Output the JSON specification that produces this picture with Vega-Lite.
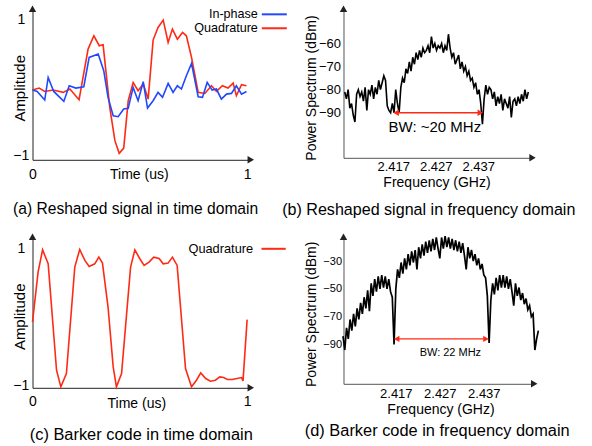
{
 "$schema": "https://vega.github.io/schema/vega-lite/v6.json",
 "padding": {"left": 12.5, "top": 4.8, "right": 0, "bottom": 0},
 "autosize": {"type": "pad"},
 "background": "white",
 "config": {
  "font": "Liberation Sans",
  "view": {"stroke": null},
  "axis": {"grid": false, "ticks": false, "domainColor": "#222", "domainWidth": 1, "labelColor": "#000", "titleColor": "#000", "titleFontWeight": "normal", "labelFlush": false, "labelOverlap": false, "labelBound": false, "titleBaseline": "middle", "titleAlign": "center"},
  "title": {"color": "#000", "fontWeight": "normal"},
  "text": {"font": "Liberation Sans"}
 },
 "columns": 2,
 "spacing": {"row": 77, "column": 92},
 "bounds": "flush",
 "resolve": {"scale": {"x": "independent", "y": "independent", "color": "independent"}},
 "concat": [
  {
   "width": 218.3, "height": 151,
   "title": {"text": "(a) Reshaped signal in time domain", "orient": "bottom", "anchor": "start", "frame": "group", "dx": -19.4, "offset": 20, "fontSize": 15.6},
   "data": {"values": [
    {"ta":0,"aa":-0.039,"series":"Quadrature"},{"ta":0.031,"aa":-0.010,"series":"Quadrature"},{"ta":0.057,"aa":-0.059,"series":"Quadrature"},{"ta":0.096,"aa":-0.039,"series":"Quadrature"},{"ta":0.143,"aa":-0.073,"series":"Quadrature"},{"ta":0.174,"aa":-0.024,"series":"Quadrature"},{"ta":0.217,"aa":-0.180,"series":"Quadrature"},{"ta":0.259,"aa":0.561,"series":"Quadrature"},{"ta":0.286,"aa":0.756,"series":"Quadrature"},{"ta":0.311,"aa":0.610,"series":"Quadrature"},{"ta":0.329,"aa":0.624,"series":"Quadrature"},{"ta":0.360,"aa":-0.293,"series":"Quadrature"},{"ta":0.384,"aa":-0.780,"series":"Quadrature"},{"ta":0.404,"aa":-0.966,"series":"Quadrature"},{"ta":0.425,"aa":-0.888,"series":"Quadrature"},{"ta":0.446,"aa":-0.195,"series":"Quadrature"},{"ta":0.469,"aa":0.073,"series":"Quadrature"},{"ta":0.492,"aa":-0.049,"series":"Quadrature"},{"ta":0.516,"aa":0.049,"series":"Quadrature"},{"ta":0.539,"aa":-0.171,"series":"Quadrature"},{"ta":0.562,"aa":0.693,"series":"Quadrature"},{"ta":0.585,"aa":0.878,"series":"Quadrature"},{"ta":0.609,"aa":0.985,"series":"Quadrature"},{"ta":0.632,"aa":0.659,"series":"Quadrature"},{"ta":0.652,"aa":0.854,"series":"Quadrature"},{"ta":0.675,"aa":0.707,"series":"Quadrature"},{"ta":0.699,"aa":0.805,"series":"Quadrature"},{"ta":0.717,"aa":0.756,"series":"Quadrature"},{"ta":0.741,"aa":0.439,"series":"Quadrature"},{"ta":0.772,"aa":-0.073,"series":"Quadrature"},{"ta":0.803,"aa":-0.088,"series":"Quadrature"},{"ta":0.834,"aa":0.024,"series":"Quadrature"},{"ta":0.857,"aa":-0.059,"series":"Quadrature"},{"ta":0.885,"aa":0.024,"series":"Quadrature"},{"ta":0.911,"aa":-0.010,"series":"Quadrature"},{"ta":0.935,"aa":0.063,"series":"Quadrature"},{"ta":0.950,"aa":-0.122,"series":"Quadrature"},{"ta":0.974,"aa":0.039,"series":"Quadrature"},{"ta":0.997,"aa":0.024,"series":"Quadrature"},
    {"ta":0,"aa":-0.039,"series":"In-phase"},{"ta":0.022,"aa":-0.059,"series":"In-phase"},{"ta":0.057,"aa":-0.185,"series":"In-phase"},{"ta":0.073,"aa":0.146,"series":"In-phase"},{"ta":0.099,"aa":-0.059,"series":"In-phase"},{"ta":0.146,"aa":-0.205,"series":"In-phase"},{"ta":0.171,"aa":0.024,"series":"In-phase"},{"ta":0.202,"aa":-0.010,"series":"In-phase"},{"ta":0.239,"aa":0.010,"series":"In-phase"},{"ta":0.264,"aa":0.439,"series":"In-phase"},{"ta":0.306,"aa":0.488,"series":"In-phase"},{"ta":0.332,"aa":0.244,"series":"In-phase"},{"ta":0.352,"aa":-0.146,"series":"In-phase"},{"ta":0.376,"aa":-0.415,"series":"In-phase"},{"ta":0.399,"aa":-0.429,"series":"In-phase"},{"ta":0.425,"aa":-0.317,"series":"In-phase"},{"ta":0.446,"aa":-0.307,"series":"In-phase"},{"ta":0.469,"aa":0.000,"series":"In-phase"},{"ta":0.492,"aa":-0.195,"series":"In-phase"},{"ta":0.516,"aa":0.083,"series":"In-phase"},{"ta":0.536,"aa":-0.302,"series":"In-phase"},{"ta":0.562,"aa":-0.195,"series":"In-phase"},{"ta":0.585,"aa":-0.073,"series":"In-phase"},{"ta":0.606,"aa":-0.146,"series":"In-phase"},{"ta":0.632,"aa":0.059,"series":"In-phase"},{"ta":0.655,"aa":-0.073,"series":"In-phase"},{"ta":0.675,"aa":0.024,"series":"In-phase"},{"ta":0.694,"aa":-0.024,"series":"In-phase"},{"ta":0.717,"aa":0.171,"series":"In-phase"},{"ta":0.741,"aa":0.351,"series":"In-phase"},{"ta":0.772,"aa":-0.137,"series":"In-phase"},{"ta":0.792,"aa":-0.146,"series":"In-phase"},{"ta":0.814,"aa":0.073,"series":"In-phase"},{"ta":0.837,"aa":-0.039,"series":"In-phase"},{"ta":0.857,"aa":-0.024,"series":"In-phase"},{"ta":0.880,"aa":-0.171,"series":"In-phase"},{"ta":0.904,"aa":-0.098,"series":"In-phase"},{"ta":0.927,"aa":-0.088,"series":"In-phase"},{"ta":0.950,"aa":0.024,"series":"In-phase"},{"ta":0.974,"aa":-0.098,"series":"In-phase"},{"ta":0.997,"aa":-0.059,"series":"In-phase"}
   ]},
   "layer": [
    {"mark": {"type": "line", "strokeWidth": 1.6, "clip": false},
     "encoding": {
      "x": {"field": "ta", "type": "quantitative", "scale": {"domain": [0, 1.0172], "nice": false, "zero": false},
            "axis": {"values": [0, 1], "format": "d", "labelFontSize": 14, "labelPadding": 8.2, "title": "Time (us)", "titleFontSize": 14, "titleX": 106.3, "titleY": 15}},
      "y": {"field": "aa", "type": "quantitative", "scale": {"domain": [-1.06, 1.151], "nice": false, "zero": false},
            "axis": {"values": [-1, 1], "format": "d", "labelFontSize": 14, "labelAlign": "center", "labelPadding": 11.7, "title": "Amplitude", "titleFontSize": 15, "titleX": -12.7, "titleY": 79}},
      "color": {"field": "series", "type": "nominal", "scale": {"domain": ["In-phase", "Quadrature"], "range": ["#1f48ff", "#ff2a14"]}, "legend": null}
     }},
    {"data": {"values": [{"name": "In-phase"}]}, "mark": {"type": "text", "text": "In-phase", "fontSize": 12.6, "align": "right", "baseline": "middle", "color": "#000"},
     "encoding": {"x": {"datum": 1.05}, "y": {"datum": 1.07}}},
    {"data": {"values": [{"name": "Quadrature"}]}, "mark": {"type": "text", "text": "Quadrature", "fontSize": 12.6, "align": "right", "baseline": "middle", "color": "#000"},
     "encoding": {"x": {"datum": 1.05}, "y": {"datum": 0.866}}},
    {"data": {"values": [{}]}, "mark": {"type": "rule", "color": "#1f48ff", "strokeWidth": 2},
     "encoding": {"x": {"datum": 1.0685}, "x2": {"datum": 1.185}, "y": {"datum": 1.07}}},
    {"data": {"values": [{}]}, "mark": {"type": "rule", "color": "#ff2a14", "strokeWidth": 2},
     "encoding": {"x": {"datum": 1.0685}, "x2": {"datum": 1.185}, "y": {"datum": 0.866}}},
    {"data": {"values": [{}]}, "mark": {"type": "point", "shape": "triangle-up", "filled": true, "size": 55, "color": "#222", "opacity": 1, "clip": false},
     "encoding": {"x": {"datum": 0}, "y": {"datum": 1.151}}},
    {"data": {"values": [{}]}, "mark": {"type": "point", "shape": "triangle-right", "filled": true, "size": 55, "color": "#222", "opacity": 1, "clip": false},
     "encoding": {"x": {"datum": 1.0172}, "y": {"datum": -1.06}}}
   ]
  },
  {
   "width": 189, "height": 149,
   "title": {"text": "(b) Reshaped signal in frequency domain", "orient": "bottom", "anchor": "start", "frame": "group", "dx": -61.3, "offset": 12.6, "fontSize": 16.1},
   "data": {"values": [
    {"fb":2405.6,"pb":-81},{"fb":2406.0,"pb":-84},{"fb":2406.4,"pb":-80},{"fb":2406.8,"pb":-88},{"fb":2407.2,"pb":-86},{"fb":2407.6,"pb":-91},{"fb":2408.0,"pb":-94},{"fb":2408.4,"pb":-82},{"fb":2408.8,"pb":-80},{"fb":2409.2,"pb":-83},{"fb":2409.6,"pb":-81},{"fb":2410.0,"pb":-85},{"fb":2410.4,"pb":-79},{"fb":2410.8,"pb":-89},{"fb":2411.2,"pb":-80},{"fb":2411.6,"pb":-82},{"fb":2412.0,"pb":-78},{"fb":2412.4,"pb":-84},{"fb":2412.8,"pb":-79},{"fb":2413.2,"pb":-82},{"fb":2413.6,"pb":-76},{"fb":2414.0,"pb":-80},{"fb":2414.4,"pb":-77},{"fb":2414.8,"pb":-74},{"fb":2415.2,"pb":-76},{"fb":2415.6,"pb":-87},{"fb":2416.0,"pb":-89},{"fb":2416.4,"pb":-90},{"fb":2416.8,"pb":-86},{"fb":2417.2,"pb":-90},{"fb":2417.6,"pb":-80},{"fb":2418.0,"pb":-86},{"fb":2418.4,"pb":-90},{"fb":2418.8,"pb":-79},{"fb":2419.2,"pb":-75},{"fb":2419.6,"pb":-77},{"fb":2420.0,"pb":-71},{"fb":2420.4,"pb":-73},{"fb":2420.8,"pb":-68},{"fb":2421.2,"pb":-72},{"fb":2421.6,"pb":-66},{"fb":2422.0,"pb":-69},{"fb":2422.4,"pb":-64},{"fb":2422.8,"pb":-67},{"fb":2423.2,"pb":-63},{"fb":2423.6,"pb":-66},{"fb":2424.0,"pb":-62},{"fb":2424.4,"pb":-64},{"fb":2424.8,"pb":-63},{"fb":2425.2,"pb":-61},{"fb":2425.6,"pb":-64},{"fb":2426.0,"pb":-57},{"fb":2426.4,"pb":-62},{"fb":2426.8,"pb":-60},{"fb":2427.2,"pb":-63},{"fb":2427.6,"pb":-61},{"fb":2428.0,"pb":-62},{"fb":2428.4,"pb":-60},{"fb":2428.8,"pb":-64},{"fb":2429.2,"pb":-61},{"fb":2429.6,"pb":-63},{"fb":2430.0,"pb":-56},{"fb":2430.4,"pb":-62},{"fb":2430.8,"pb":-66},{"fb":2431.2,"pb":-64},{"fb":2431.6,"pb":-69},{"fb":2432.0,"pb":-67},{"fb":2432.4,"pb":-65},{"fb":2432.8,"pb":-71},{"fb":2433.2,"pb":-68},{"fb":2433.6,"pb":-72},{"fb":2434.0,"pb":-70},{"fb":2434.4,"pb":-74},{"fb":2434.8,"pb":-72},{"fb":2435.2,"pb":-76},{"fb":2435.6,"pb":-75},{"fb":2436.0,"pb":-79},{"fb":2436.4,"pb":-77},{"fb":2436.8,"pb":-82},{"fb":2437.2,"pb":-80},{"fb":2437.6,"pb":-86},{"fb":2438.0,"pb":-95},{"fb":2438.4,"pb":-84},{"fb":2438.8,"pb":-78},{"fb":2439.2,"pb":-82},{"fb":2439.6,"pb":-79},{"fb":2440.0,"pb":-80},{"fb":2440.4,"pb":-84},{"fb":2440.8,"pb":-81},{"fb":2441.2,"pb":-87},{"fb":2441.6,"pb":-83},{"fb":2442.0,"pb":-86},{"fb":2442.4,"pb":-82},{"fb":2442.8,"pb":-89},{"fb":2443.2,"pb":-84},{"fb":2443.6,"pb":-86},{"fb":2444.0,"pb":-88},{"fb":2444.4,"pb":-83},{"fb":2444.8,"pb":-92},{"fb":2445.2,"pb":-85},{"fb":2445.6,"pb":-84},{"fb":2446.0,"pb":-87},{"fb":2446.4,"pb":-83},{"fb":2446.8,"pb":-86},{"fb":2447.2,"pb":-82},{"fb":2447.6,"pb":-85},{"fb":2448.0,"pb":-80},{"fb":2448.4,"pb":-84},{"fb":2448.8,"pb":-81}
   ]},
   "layer": [
    {"mark": {"type": "line", "color": "#000", "strokeWidth": 1.6, "clip": false},
     "encoding": {
      "x": {"field": "fb", "type": "quantitative", "scale": {"domain": [2405.31, 2449.78], "nice": false, "zero": false},
            "axis": {"values": [2417, 2427, 2437], "labelExpr": "format(datum.value/1000, '.3f')", "labelFontSize": 13, "labelPadding": 3.1, "title": "Frequency (GHz)", "titleFontSize": 14, "titleX": 93, "titleY": 24.7, "domainColor": "#555"}},
      "y": {"field": "pb", "type": "quantitative", "scale": {"domain": [-109.5, -45], "nice": false, "zero": false},
            "axis": {"values": [-90, -80, -70, -60], "labelFontSize": 13, "labelPadding": 3, "title": "Power Spectrum (dBm)", "titleFontSize": 14, "titleX": -32, "titleY": 78.7, "domainColor": "#555"}}
     }},
    {"data": {"values": [{}]}, "mark": {"type": "rule", "color": "#ff2a14", "strokeWidth": 1.4},
     "encoding": {"x": {"datum": 2417.4}, "x2": {"datum": 2437.8}, "y": {"datum": -90}}},
    {"data": {"values": [{}]}, "mark": {"type": "point", "shape": "triangle-left", "filled": true, "size": 40, "color": "#ff2a14", "opacity": 1},
     "encoding": {"x": {"datum": 2417.7}, "y": {"datum": -90}}},
    {"data": {"values": [{}]}, "mark": {"type": "point", "shape": "triangle-right", "filled": true, "size": 40, "color": "#ff2a14", "opacity": 1},
     "encoding": {"x": {"datum": 2437.5}, "y": {"datum": -90}}},
    {"data": {"values": [{}]}, "mark": {"type": "text", "text": "BW: ~20 MHz", "fontSize": 15, "align": "center", "baseline": "middle", "color": "#000"},
     "encoding": {"x": {"datum": 2426.8}, "y": {"datum": -96.3}}},
    {"data": {"values": [{}]}, "mark": {"type": "point", "shape": "triangle-up", "filled": true, "size": 55, "color": "#222", "opacity": 1, "clip": false},
     "encoding": {"x": {"datum": 2405.31}, "y": {"datum": -45}}},
    {"data": {"values": [{}]}, "mark": {"type": "point", "shape": "triangle-right", "filled": true, "size": 55, "color": "#222", "opacity": 1, "clip": false},
     "encoding": {"x": {"datum": 2449.78}, "y": {"datum": -109.5}}}
   ]
  },
  {
   "width": 218.3, "height": 151,
   "title": {"text": "(c) Barker code in time domain", "orient": "bottom", "anchor": "start", "frame": "group", "dx": -2.7, "offset": 16.6, "fontSize": 16.4},
   "data": {"values": [
    {"tc":0,"ac":-0.073,"series":"Quadrature"},{"tc":0.026,"ac":0.659,"series":"Quadrature"},{"tc":0.047,"ac":0.985,"series":"Quadrature"},{"tc":0.073,"ac":0.780,"series":"Quadrature"},{"tc":0.112,"ac":-0.780,"series":"Quadrature"},{"tc":0.132,"ac":-1.024,"series":"Quadrature"},{"tc":0.158,"ac":-0.829,"series":"Quadrature"},{"tc":0.197,"ac":0.732,"series":"Quadrature"},{"tc":0.220,"ac":0.990,"series":"Quadrature"},{"tc":0.244,"ac":0.829,"series":"Quadrature"},{"tc":0.264,"ac":0.741,"series":"Quadrature"},{"tc":0.290,"ac":0.780,"series":"Quadrature"},{"tc":0.309,"ac":0.878,"series":"Quadrature"},{"tc":0.326,"ac":0.790,"series":"Quadrature"},{"tc":0.352,"ac":0.146,"series":"Quadrature"},{"tc":0.376,"ac":-0.732,"series":"Quadrature"},{"tc":0.391,"ac":-1.024,"series":"Quadrature"},{"tc":0.415,"ac":-0.829,"series":"Quadrature"},{"tc":0.457,"ac":0.732,"series":"Quadrature"},{"tc":0.477,"ac":0.985,"series":"Quadrature"},{"tc":0.500,"ac":0.854,"series":"Quadrature"},{"tc":0.520,"ac":0.756,"series":"Quadrature"},{"tc":0.543,"ac":0.805,"series":"Quadrature"},{"tc":0.565,"ac":0.878,"series":"Quadrature"},{"tc":0.590,"ac":0.859,"series":"Quadrature"},{"tc":0.609,"ac":0.780,"series":"Quadrature"},{"tc":0.632,"ac":0.790,"series":"Quadrature"},{"tc":0.652,"ac":0.878,"series":"Quadrature"},{"tc":0.674,"ac":0.756,"series":"Quadrature"},{"tc":0.713,"ac":-0.756,"series":"Quadrature"},{"tc":0.741,"ac":-1.024,"series":"Quadrature"},{"tc":0.764,"ac":-0.927,"series":"Quadrature"},{"tc":0.784,"ac":-0.820,"series":"Quadrature"},{"tc":0.807,"ac":-0.902,"series":"Quadrature"},{"tc":0.829,"ac":-0.941,"series":"Quadrature"},{"tc":0.852,"ac":-0.927,"series":"Quadrature"},{"tc":0.873,"ac":-0.878,"series":"Quadrature"},{"tc":0.891,"ac":-0.888,"series":"Quadrature"},{"tc":0.908,"ac":-0.917,"series":"Quadrature"},{"tc":0.930,"ac":-0.917,"series":"Quadrature"},{"tc":0.953,"ac":-0.902,"series":"Quadrature"},{"tc":0.974,"ac":-0.888,"series":"Quadrature"},{"tc":0.981,"ac":-0.937,"series":"Quadrature"},{"tc":1.0,"ac":-0.039,"series":"Quadrature"}
   ]},
   "layer": [
    {"mark": {"type": "line", "strokeWidth": 1.6, "clip": false, "color": "#ff2a14"},
     "encoding": {
      "x": {"field": "tc", "type": "quantitative", "scale": {"domain": [0, 1.0172], "nice": false, "zero": false},
            "axis": {"values": [0, 1], "format": "d", "labelFontSize": 14, "labelPadding": 6.3, "title": "Time (us)", "titleFontSize": 14, "titleX": 103.8, "titleY": 15.7}},
      "y": {"field": "ac", "type": "quantitative", "scale": {"domain": [-1.038, 1.176], "nice": false, "zero": false},
            "axis": {"values": [-1, 1], "format": "d", "labelFontSize": 14, "labelAlign": "center", "labelPadding": 11.7, "title": "Amplitude", "titleFontSize": 15, "titleX": -12.7, "titleY": 79.5}}
     }},
    {"data": {"values": [{"name": "Quadrature"}]}, "mark": {"type": "text", "text": "Quadrature", "fontSize": 12.8, "align": "right", "baseline": "middle", "color": "#000"},
     "encoding": {"x": {"datum": 1.028}, "y": {"datum": 1.0}}},
    {"data": {"values": [{}]}, "mark": {"type": "rule", "color": "#ff2a14", "strokeWidth": 2},
     "encoding": {"x": {"datum": 1.067}, "x2": {"datum": 1.18}, "y": {"datum": 1.0}}},
    {"data": {"values": [{}]}, "mark": {"type": "point", "shape": "triangle-up", "filled": true, "size": 55, "color": "#222", "opacity": 1, "clip": false},
     "encoding": {"x": {"datum": 0}, "y": {"datum": 1.176}}},
    {"data": {"values": [{}]}, "mark": {"type": "point", "shape": "triangle-right", "filled": true, "size": 55, "color": "#222", "opacity": 1, "clip": false},
     "encoding": {"x": {"datum": 1.0172}, "y": {"datum": -1.038}}}
   ]
  },
  {
   "width": 190.7, "height": 147,
   "title": {"text": "(d) Barker code in frequency domain", "orient": "bottom", "anchor": "start", "frame": "group", "dx": -38.7, "offset": 7, "fontSize": 16.4},
   "data": {"values": [
    {"fd":2405.0,"pd":-84},{"fd":2405.4,"pd":-94},{"fd":2405.8,"pd":-78},{"fd":2406.2,"pd":-86},{"fd":2406.6,"pd":-72},{"fd":2407.0,"pd":-80},{"fd":2407.4,"pd":-68},{"fd":2407.8,"pd":-77},{"fd":2408.2,"pd":-64},{"fd":2408.6,"pd":-72},{"fd":2409.0,"pd":-60},{"fd":2409.4,"pd":-68},{"fd":2409.8,"pd":-56},{"fd":2410.2,"pd":-64},{"fd":2410.6,"pd":-51},{"fd":2411.0,"pd":-66},{"fd":2411.4,"pd":-46},{"fd":2411.8,"pd":-55},{"fd":2412.2,"pd":-43},{"fd":2412.6,"pd":-52},{"fd":2413.0,"pd":-41},{"fd":2413.4,"pd":-50},{"fd":2413.8,"pd":-40},{"fd":2414.2,"pd":-49},{"fd":2414.6,"pd":-41},{"fd":2415.0,"pd":-50},{"fd":2415.4,"pd":-43},{"fd":2415.8,"pd":-52},{"fd":2416.2,"pd":-56},{"fd":2416.6,"pd":-90},
    {"fd":2417.0,"pd":-50},{"fd":2417.4,"pd":-36},{"fd":2417.8,"pd":-42},{"fd":2418.2,"pd":-31},{"fd":2418.6,"pd":-39},{"fd":2419.0,"pd":-28},{"fd":2419.4,"pd":-36},{"fd":2419.8,"pd":-25},{"fd":2420.2,"pd":-33},{"fd":2420.6,"pd":-23},{"fd":2421.0,"pd":-31},{"fd":2421.4,"pd":-22},{"fd":2421.8,"pd":-36},{"fd":2422.2,"pd":-20},{"fd":2422.6,"pd":-28},{"fd":2423.0,"pd":-18},{"fd":2423.4,"pd":-26},{"fd":2423.8,"pd":-16},{"fd":2424.2,"pd":-24},{"fd":2424.6,"pd":-15},{"fd":2425.0,"pd":-23},{"fd":2425.4,"pd":-14},{"fd":2425.8,"pd":-22},{"fd":2426.2,"pd":-13},{"fd":2426.6,"pd":-21},{"fd":2427.0,"pd":-28},{"fd":2427.4,"pd":-13},{"fd":2427.8,"pd":-21},{"fd":2428.2,"pd":-12},{"fd":2428.6,"pd":-20},{"fd":2429.0,"pd":-13},{"fd":2429.4,"pd":-21},{"fd":2429.8,"pd":-14},{"fd":2430.2,"pd":-22},{"fd":2430.6,"pd":-15},{"fd":2431.0,"pd":-23},{"fd":2431.4,"pd":-16},{"fd":2431.8,"pd":-24},{"fd":2432.2,"pd":-17},{"fd":2432.6,"pd":-26},{"fd":2433.0,"pd":-36},{"fd":2433.4,"pd":-20},{"fd":2433.8,"pd":-28},{"fd":2434.2,"pd":-22},{"fd":2434.6,"pd":-30},{"fd":2435.0,"pd":-25},{"fd":2435.4,"pd":-33},{"fd":2435.8,"pd":-28},{"fd":2436.2,"pd":-36},{"fd":2436.6,"pd":-32},{"fd":2437.0,"pd":-40},{"fd":2437.4,"pd":-42},{"fd":2437.8,"pd":-55},{"fd":2438.2,"pd":-89},
    {"fd":2438.6,"pd":-58},{"fd":2439.0,"pd":-46},{"fd":2439.4,"pd":-54},{"fd":2439.8,"pd":-42},{"fd":2440.2,"pd":-51},{"fd":2440.6,"pd":-40},{"fd":2441.0,"pd":-49},{"fd":2441.4,"pd":-40},{"fd":2441.8,"pd":-49},{"fd":2442.2,"pd":-41},{"fd":2442.6,"pd":-50},{"fd":2443.0,"pd":-43},{"fd":2443.4,"pd":-52},{"fd":2443.8,"pd":-62},{"fd":2444.2,"pd":-46},{"fd":2444.6,"pd":-55},{"fd":2445.0,"pd":-49},{"fd":2445.4,"pd":-58},{"fd":2445.8,"pd":-53},{"fd":2446.2,"pd":-61},{"fd":2446.6,"pd":-57},{"fd":2447.0,"pd":-65},{"fd":2447.4,"pd":-62},{"fd":2447.8,"pd":-70},{"fd":2448.2,"pd":-68},{"fd":2448.6,"pd":-94},{"fd":2449.0,"pd":-86},{"fd":2449.4,"pd":-80}
   ]},
   "layer": [
    {"mark": {"type": "line", "color": "#000", "strokeWidth": 1.7, "clip": false},
     "encoding": {
      "x": {"field": "fd", "type": "quantitative", "scale": {"domain": [2405.11, 2448.45], "nice": false, "zero": false},
            "axis": {"values": [2417, 2427, 2437], "labelExpr": "format(datum.value/1000, '.3f')", "labelFontSize": 13, "labelPadding": 3.8, "title": "Frequency (GHz)", "titleFontSize": 14, "titleX": 97, "titleY": 25.5, "domainColor": "#555"}},
      "y": {"field": "pd", "type": "quantitative", "scale": {"domain": [-118.3, -12.5], "nice": false, "zero": false},
            "axis": {"values": [-90, -70, -50, -30], "labelFontSize": 11, "labelPadding": 2, "title": "Power Spectrum (dBm)", "titleFontSize": 14, "titleX": -32, "titleY": 77, "domainColor": "#555"}}
     }},
    {"data": {"values": [{}]}, "mark": {"type": "rule", "color": "#ff2a14", "strokeWidth": 1.4},
     "encoding": {"x": {"datum": 2417.0}, "x2": {"datum": 2437.8}, "y": {"datum": -86}}},
    {"data": {"values": [{}]}, "mark": {"type": "point", "shape": "triangle-left", "filled": true, "size": 40, "color": "#ff2a14", "opacity": 1},
     "encoding": {"x": {"datum": 2417.2}, "y": {"datum": -86}}},
    {"data": {"values": [{}]}, "mark": {"type": "point", "shape": "triangle-right", "filled": true, "size": 40, "color": "#ff2a14", "opacity": 1},
     "encoding": {"x": {"datum": 2437.5}, "y": {"datum": -86}}},
    {"data": {"values": [{}]}, "mark": {"type": "text", "text": "BW: 22 MHz", "fontSize": 11, "align": "center", "baseline": "middle", "color": "#000"},
     "encoding": {"x": {"datum": 2429.4}, "y": {"datum": -96.2}}},
    {"data": {"values": [{}]}, "mark": {"type": "point", "shape": "triangle-up", "filled": true, "size": 55, "color": "#222", "opacity": 1, "clip": false},
     "encoding": {"x": {"datum": 2405.11}, "y": {"datum": -12.5}}},
    {"data": {"values": [{}]}, "mark": {"type": "point", "shape": "triangle-right", "filled": true, "size": 55, "color": "#222", "opacity": 1, "clip": false},
     "encoding": {"x": {"datum": 2448.45}, "y": {"datum": -118.3}}}
   ]
  }
 ]
}
